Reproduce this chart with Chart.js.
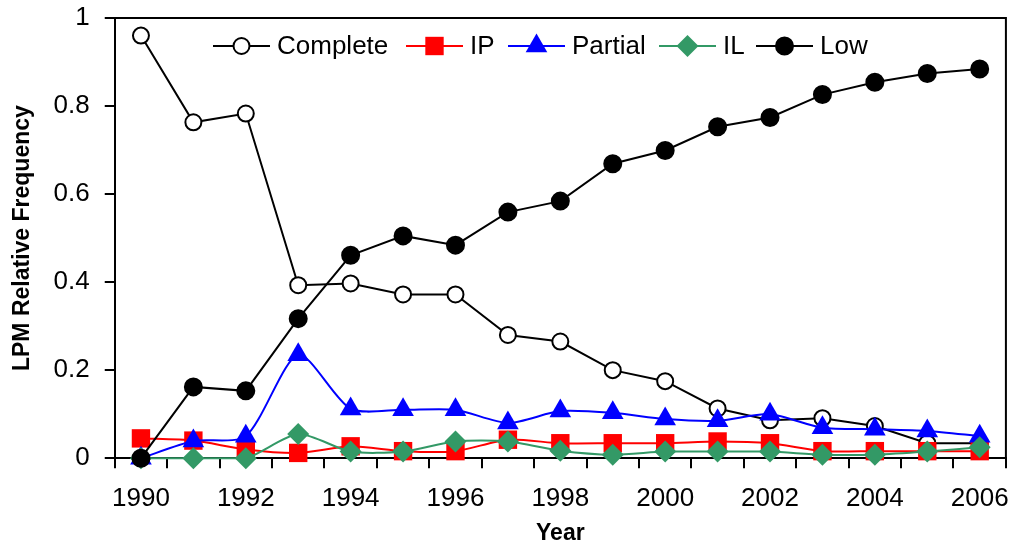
<!DOCTYPE html>
<html>
<head>
<meta charset="utf-8">
<script src="https://cdn.jsdelivr.net/npm/chart.js"></script>
<style>
  body { margin: 0; background: #fff; }
  #wrap { width: 1024px; height: 548px; }
</style>
</head>
<body>
<div id="wrap"><canvas id="lpmChart" width="1024" height="548"></canvas></div>
<script>
// values
const years = ["1990", "1991", "1992", "1993", "1994", "1995", "1996", "1997", "1998",
               "1999", "2000", "2001", "2002", "2003", "2004", "2005", "2006"];
const complete = [0.96, 0.763, 0.783, 0.393, 0.397, 0.372, 0.372, 0.28, 0.265, 0.2, 0.175, 0.113, 0.086, 0.091, 0.073, 0.034, 0.034];
const ip       = [0.045, 0.040, 0.020, 0.012, 0.027, 0.016, 0.016, 0.042, 0.034, 0.034, 0.034, 0.038, 0.034, 0.016, 0.016, 0.016, 0.016];
const partial  = [0.0, 0.039, 0.050, 0.235, 0.112, 0.110, 0.110, 0.080, 0.107, 0.103, 0.089, 0.085, 0.100, 0.069, 0.066, 0.062, 0.050];
const il       = [0.0, 0.0, 0.0, 0.055, 0.015, 0.015, 0.038, 0.038, 0.017, 0.008, 0.015, 0.015, 0.015, 0.008, 0.008, 0.015, 0.025];
const low      = [0.0, 0.162, 0.153, 0.317, 0.461, 0.505, 0.484, 0.559, 0.584, 0.669, 0.699, 0.753, 0.774, 0.826, 0.854, 0.874, 0.884];
const yTicks = [0, 0.2, 0.4, 0.6, 0.8, 1];

Chart.defaults.font.family = "'Liberation Sans', Arial, sans-serif";
Chart.defaults.color = "#000";

// legend item left edges, as in the picture
const legendX = [213, 406, 508, 659, 756];

const lineLegend = {
    id: "lineLegend",
    afterDraw(chart) {
        const ctx = chart.ctx;
        const y = 46;
        ctx.save();
        ctx.font = "26px 'Liberation Sans', Arial, sans-serif";
        ctx.textBaseline = "middle";
        chart.data.datasets.forEach((ds, i) => {
            const x = legendX[i];
            ctx.strokeStyle = ds.borderColor;
            ctx.lineWidth = 2;
            ctx.beginPath();
            ctx.moveTo(x, y);
            ctx.lineTo(x + 57, y);
            ctx.stroke();
            ctx.fillStyle = ds.pointBackgroundColor;
            ctx.strokeStyle = ds.pointBorderColor;
            ctx.lineWidth = ds.pointBorderWidth;
            Chart.helpers.drawPoint(ctx, {
                pointStyle: ds.pointStyle,
                radius: ds.pointRadius,
                rotation: 0,
                borderWidth: ds.pointBorderWidth
            }, x + 28.5, y);
            ctx.fillStyle = "#000";
            ctx.fillText(ds.label, x + 64, y + 1);
        });
        ctx.restore();
    }
};

// top and right edges of the plot area
const frame = {
    id: "frame",
    beforeDatasetsDraw(chart) {
        const a = chart.chartArea;
        const ctx = chart.ctx;
        ctx.save();
        ctx.strokeStyle = "#000";
        ctx.lineWidth = 2;
        ctx.beginPath();
        ctx.moveTo(a.left, a.top);
        ctx.lineTo(a.right, a.top);
        ctx.lineTo(a.right, a.bottom);
        ctx.stroke();
        ctx.restore();
    }
};

function series(label, data, color, style, radius, fill, order, tension) {
    return {
        label: label,
        data: data,
        borderColor: color,
        borderWidth: 2,
        pointStyle: style,
        pointRadius: radius,
        pointHoverRadius: radius,
        pointBackgroundColor: fill,
        pointBorderColor: style === "circle" ? "#000" : fill,
        pointBorderWidth: style === "circle" ? 2 : 0,
        tension: tension,
        order: order,
        clip: false
    };
}

new Chart(document.getElementById("lpmChart"), {
    type: "line",
    data: {
        labels: years,
        datasets: [
            series("Complete", complete, "#000", "circle", 8, "#fff", 5, 0),
            series("IP", ip, "#ff0000", "rect", 13, "#ff0000", 4, 0.25),
            series("Partial", partial, "#0000ff", "triangle", 12.5, "#0000ff", 3, 0.25),
            series("IL", il, "#339966", "rectRot", 11, "#339966", 2, 0.25),
            series("Low", low, "#000", "circle", 8.5, "#000", 1, 0)
        ]
    },
    options: {
        responsive: false,
        animation: false,
        devicePixelRatio: 1,
        layout: { padding: { top: 0, right: 8, left: 0, bottom: 0 } },
        plugins: {
            legend: { display: false },
            tooltip: { enabled: false }
        },
        scales: {
            x: {
                offset: true,
                grid: {
                    offset: true,
                    drawOnChartArea: false,
                    color: "#000",
                    lineWidth: 2,
                    tickLength: 10
                },
                border: { color: "#000", width: 2 },
                ticks: {
                    autoSkip: false,
                    maxRotation: 0,
                    padding: 15,
                    font: { size: 26 },
                    callback: function (v, i) { return i % 2 === 0 ? years[i] : ""; }
                },
                title: {
                    display: true,
                    text: "Year",
                    font: { size: 23, weight: "bold" },
                    padding: { top: -10, bottom: 1 }
                }
            },
            y: {
                min: 0,
                max: 1,
                afterBuildTicks: function (axis) {
                    axis.ticks = yTicks.map(v => ({ value: v }));
                },
                grid: {
                    drawOnChartArea: false,
                    color: "#000",
                    lineWidth: 2,
                    tickLength: 10
                },
                border: { color: "#000", width: 2 },
                ticks: {
                    padding: 15,
                    font: { size: 26, lineHeight: 0.23 },
                    callback: function (v) { return String(Math.round(v * 10) / 10); }
                },
                title: {
                    display: true,
                    text: "LPM Relative Frequency",
                    font: { size: 23, weight: "bold" },
                    padding: { top: 9, bottom: 2 }
                }
            }
        }
    },
    plugins: [frame, lineLegend]
});
</script>
</body>
</html>
